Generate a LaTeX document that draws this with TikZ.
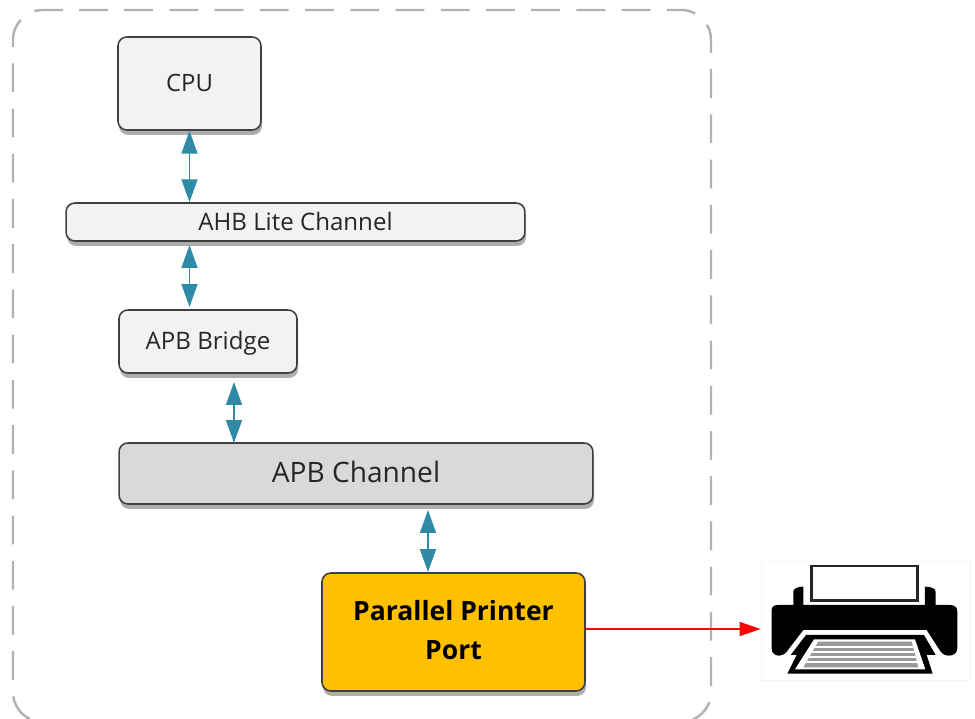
\documentclass[tikz,border=0pt]{standalone}
\usepackage{fontspec}
\setmainfont{Open Sans}
\usetikzlibrary{arrows.meta, shadows}
\definecolor{boxfill}{HTML}{F2F2F2}
\definecolor{channelfill}{HTML}{D9D9D9}
\definecolor{portfill}{HTML}{FFC000}
\definecolor{linkcolor}{HTML}{2F8AA5}
\tikzset{
    block/.style={draw=black!75, line width=0.9pt, fill=boxfill, rounded corners=5pt, align=center,
        inner sep=0pt, text=black!85, drop shadow={shadow xshift=0.6pt, shadow yshift=-2.8pt, fill=black!40, opacity=0.8}},
    link/.style={linkcolor, line width=1.1pt, {Triangle[length=13pt,width=9pt]}-{Triangle[length=13pt,width=9pt]}},
    outlink/.style={red, line width=0.7pt, -{Triangle[length=12pt,width=8pt]}},
    frame/.style={black!30, line width=1.4pt, rounded corners=17pt, dash pattern=on 16.4pt off 9.34pt}
}
\begin{document}
\begin{tikzpicture}[x=0.02cm, y=-0.02cm]
    \useasboundingbox (0,0) rectangle (975,719);

    % outer dashed frame
    \draw[frame] (79,10) -- (711,10) -- (711,722) -- (350,722);
    \draw[frame] (63,10) -- (13,10) -- (13,722) -- (350,722);

    % blocks
    \node[block, text depth=1pt, minimum width=2.86cm, minimum height=1.86cm, font=\fontsize{13.6}{16}\selectfont] (cpu) at (189.5,83.5) {CPU};
    \node[block, text depth=1pt, minimum width=9.18cm, minimum height=0.76cm, font=\fontsize{13.7}{16}\selectfont] (ahb) at (295.5,222) {AHB Lite Channel};
    \node[block, text depth=1pt, minimum width=3.56cm, minimum height=1.26cm, font=\fontsize{13.7}{16}\selectfont] (bridge) at (208,341.5) {APB Bridge};
    \node[block, fill=channelfill, text depth=2pt, minimum width=9.48cm, minimum height=1.22cm, font=\fontsize{16}{19}\selectfont] (channel) at (356,473.5) {APB Channel};
    \node[block, fill=portfill, text=black, text depth=2pt, minimum width=5.26cm, minimum height=2.36cm, font=\fontsize{15.1}{22}\selectfont\bfseries] (port) at (453.5,632) {Parallel Printer\\Port};
    \node[draw=black!4, minimum width=4.18cm, minimum height=2.38cm, inner sep=0pt] (printer) at (865.5,620.5) {};

    % link end points
    \coordinate (ahbout) at (189.5,245);
    \coordinate (bridgein) at (189.5,307);
    \coordinate (bridgeout) at (234,382);
    \coordinate (channelin) at (234,443);
    \coordinate (channelout) at (428,510);
    \coordinate (portin) at (428,572);
    \coordinate (portout) at (585,629);

    % connectors
    \draw[link] (cpu.south) -- (cpu.south |- ahb.north);
    \draw[link] (ahbout) -- (bridgein);
    \draw[link] (bridgeout) -- (channelin);
    \draw[link] (channelout) -- (portin);
    \draw[outlink] (portout) -- (printer.west |- portout);

    % printer icon
    \begin{scope}[shift={(750,550)}, x=0.00667cm, y=-0.00667cm]
        \draw[black!85, line width=1.7pt, fill=white] (185,48) rectangle (503,152);
        \fill[black] (130,170) -- (130,125) .. controls (130,115) and (145,110) .. (160,110) -- (160,170) -- cycle;
        \fill[black] (525,170) -- (525,110) .. controls (542,110) and (557,115) .. (557,125) -- (557,170) -- cycle;
        \fill[black] (65,180) .. controls (65,170) and (72,165) .. (85,165) -- (600,165) .. controls (615,165) and (622,172) .. (622,185) -- (622,295) .. controls (622,310) and (610,317) .. (595,317) .. controls (585,317) and (578,313) .. (572,305) -- (530,240) -- (160,240) -- (110,305) .. controls (103,313) and (95,317) .. (88,317) .. controls (75,317) and (65,310) .. (65,295) -- cycle;
        \fill[black] (168,255) -- (522,255) -- (557,315) -- (530,315) -- (548,371) -- (112,371) -- (140,315) -- (122,315) -- cycle;
        \fill[white] (192,268) -- (495,268) -- (526,358) -- (135,358) -- cycle;
        \begin{scope}
            \clip (205,275) -- (485,275) -- (505,352) -- (160,352) -- cycle;
            \fill[black!40] (150,270) rectangle (510,355);
            \foreach \ypos in {291,306,321,336}
                \draw[white, line width=0.8pt] (150,\ypos) -- (510,\ypos);
        \end{scope}
    \end{scope}
\end{tikzpicture}
\end{document}
